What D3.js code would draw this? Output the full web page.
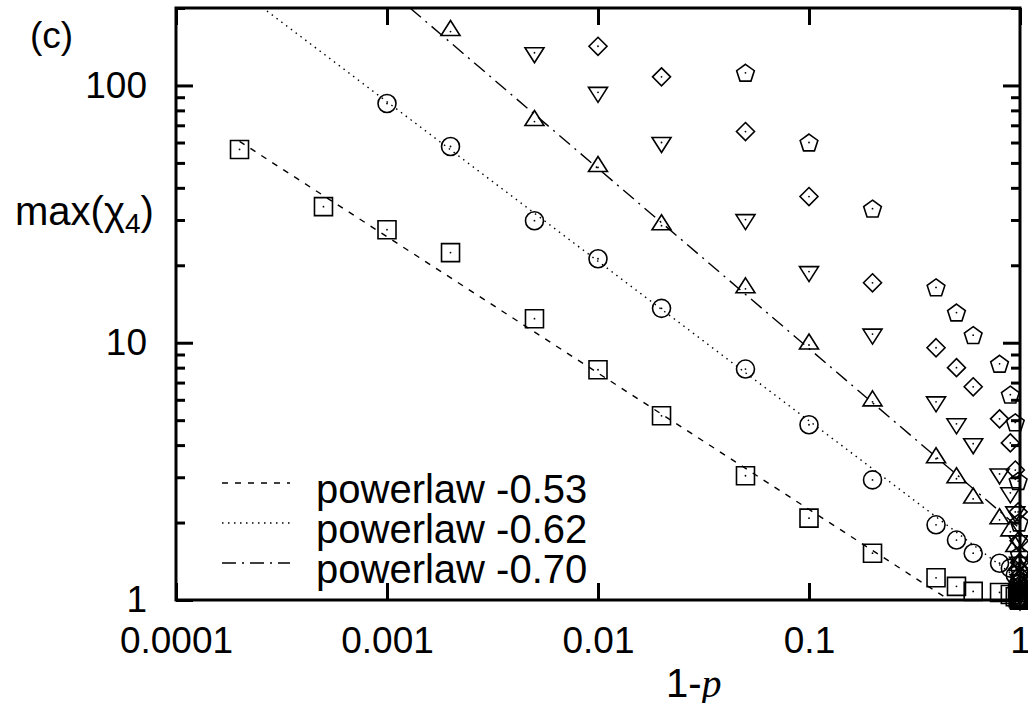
<!DOCTYPE html>
<html>
<head>
<meta charset="utf-8">
<script src="https://cdn.jsdelivr.net/npm/d3@7"></script>
<style>
  body { margin: 0; background: #fff; }
  text { font-family: "Liberation Sans", Arial, sans-serif; fill: #000; }
</style>
</head>
<body>
<svg id="chart" width="1028" height="703"></svg>
<script>
// values
var xVals = [0.0002, 0.0005, 0.001, 0.002, 0.005, 0.01, 0.02, 0.05, 0.1, 0.2, 0.4, 0.5, 0.6, 0.8, 0.9, 0.95, 0.98, 0.99, 0.995, 0.997, 0.998, 0.999, 0.9995];

var squares   = [56.4, 33.8, 27.5, 22.4, 12.4, 7.85, 5.2, 3.04, 2.08, 1.52, 1.22, 1.13, 1.08, 1.07, 1.05, 1.03, 1.02, 1.01, 1.0, 1.0, 1.0, 1.0, 1.0];
var circles   = [null, null, 85.1, 57.9, 29.8, 21.2, 13.6, 7.9, 4.8, 2.93, 1.96, 1.71, 1.52, 1.39, 1.33, 1.25, 1.15, 1.08, 1.03, 1.02, 1.01, 1.0, 1.0];
var trisUp    = [null, null, null, 162, 72.4, 48.0, 28.5, 16.2, 9.8, 5.89, 3.54, 2.96, 2.47, 2.05, 1.84, 1.6, 1.35, 1.2, 1.1, 1.06, 1.04, 1.02, 1.0];
var trisDown  = [null, null, null, null, 134, 94, 60, 30.1, 18.9, 10.8, 5.89, 4.84, 4.05, 3.09, 2.61, 2.2, 1.7, 1.4, 1.2, 1.12, 1.08, 1.05, 1.0];
var diamonds  = [null, null, null, null, null, 142, 108, 66.2, 37.0, 17.1, 9.56, 8.0, 6.74, 5.06, 4.08, 3.2, 2.2, 1.7, 1.4, 1.25, 1.15, 1.1, 1.0];
var pentagons = [null, null, null, null, null, null, null, 112, 60.0, 33.2, 16.4, 13.1, 10.7, 8.28, 6.28, 4.9, 2.9, 2.0, 1.5, 1.3, 1.2, 1.1, 1.0];

var fitLabels    = ["powerlaw -0.53", "powerlaw -0.62", "powerlaw -0.70"];
var fitExponents = [-0.53, -0.62, -0.70];
var fitAmps      = [0.664, 1.193, 1.894];
var fitStart     = [0.0002, 0.0001, 0.0001];

var xTicks = [0.0001, 0.001, 0.01, 0.1, 1];
var xTickLabels = ["0.0001", "0.001", "0.01", "0.1", "1"];
var yTicks = [1, 10, 100];
var yTickLabels = ["1", "10", "100"];
var yMinor = [2, 3, 4, 5, 6, 7, 8, 9, 20, 30, 40, 50, 60, 70, 80, 90, 200];

var pLeft = 176, pRight = 1020, pTop = 8, pBottom = 600;

var svg = d3.select("#chart");

var x = d3.scaleLog().domain([0.0001, 1]).range([pLeft, pRight]);
var y = d3.scaleLog().domain([1, 200]).range([pBottom, pTop]);

svg.append("defs").append("clipPath").attr("id", "plot-clip")
  .append("rect").attr("x", pLeft).attr("y", pTop)
  .attr("width", pRight - pLeft).attr("height", pBottom - pTop);

// fit lines (straight in log-log, so the two ends are enough)
var dashes = ["6,7", "1.5,4.5", "14,6,2,6"];
var line = d3.line().x(function(d) { return x(d[0]); }).y(function(d) { return y(d[1]); });

fitAmps.forEach(function(a, i) {
  var pts = [fitStart[i], 1].map(function(v) { return [v, a * Math.pow(v, fitExponents[i])]; });
  svg.append("path")
    .attr("clip-path", "url(#plot-clip)")
    .attr("d", line(pts))
    .attr("fill", "none").attr("stroke", "#000")
    .attr("stroke-width", 1.4)
    .attr("stroke-dasharray", dashes[i]);
});

// marker shapes, gnuplot style with a dot in the middle
function pentagon(r) {
  var p = [];
  for (var k = 0; k < 5; k++) {
    var t = -Math.PI / 2 + k * 2 * Math.PI / 5;
    p.push([r * Math.cos(t), r * Math.sin(t) + 0.8]);
  }
  return "M" + p.join("L") + "Z";
}
var shapes = [
  "M-9,-9H9V9H-9Z",
  "M9,0A9,9 0 1,1 -9,0A9,9 0 1,1 9,0Z",
  "M0,-11L9.5,4L-9.5,4Z",
  "M0,10L9.5,-5L-9.5,-5Z",
  "M0,-9L9,0L0,9L-9,0Z",
  pentagon(9.3)
];
var series = [squares, circles, trisUp, trisDown, diamonds, pentagons];

series.forEach(function(vals, i) {
  var pts = xVals.map(function(v, j) { return [v, vals[j]]; })
                 .filter(function(d) { return d[1] != null; });
  var g = svg.append("g").selectAll("g").data(pts).enter().append("g")
    .attr("transform", function(d) { return "translate(" + x(d[0]) + "," + y(d[1]) + ")"; });
  g.append("path").attr("d", shapes[i])
    .attr("fill", "none").attr("stroke", "#000").attr("stroke-width", 1.6);
  g.append("circle").attr("r", 0.9).attr("fill", "#000");
});

// axes: labels, then inward ticks on all four sides
var fmtX = function(d, i) { return xTickLabels[i]; };
var fmtY = function(d, i) { return yTickLabels[i]; };

svg.append("g").attr("transform", "translate(0," + pBottom + ")")
  .call(d3.axisBottom(x).tickValues(xTicks).tickFormat(fmtX).tickSize(0).tickPadding(27))
  .call(function(g) { g.select(".domain").remove(); })
  .selectAll("text").attr("font-size", 37).attr("font-family", "Liberation Sans, Arial, sans-serif");

svg.append("g").attr("transform", "translate(" + pLeft + ",0)")
  .call(d3.axisLeft(y).tickValues(yTicks).tickFormat(fmtY).tickSize(0).tickPadding(29))
  .call(function(g) { g.select(".domain").remove(); })
  .selectAll("text").attr("font-size", 37).attr("font-family", "Liberation Sans, Arial, sans-serif");

function ticks(axis, pos, vals, len) {
  svg.append("g").attr("transform", pos)
    .call(axis.tickValues(vals).tickFormat("").tickSizeInner(-len).tickSizeOuter(0))
    .call(function(g) {
      g.select(".domain").remove();
      g.selectAll("line").attr("stroke-width", 3);
    });
}
ticks(d3.axisBottom(x), "translate(0," + pBottom + ")", xTicks, 17);
ticks(d3.axisTop(x), "translate(0," + pTop + ")", xTicks, 17);
ticks(d3.axisLeft(y), "translate(" + pLeft + ",0)", yTicks, 17);
ticks(d3.axisRight(y), "translate(" + pRight + ",0)", yTicks, 17);
ticks(d3.axisLeft(y), "translate(" + pLeft + ",0)", yMinor, 9);
ticks(d3.axisRight(y), "translate(" + pRight + ",0)", yMinor, 9);

svg.append("rect")
  .attr("x", pLeft).attr("y", pTop)
  .attr("width", pRight - pLeft).attr("height", pBottom - pTop)
  .attr("fill", "none").attr("stroke", "#000").attr("stroke-width", 3);

// legend
var legend = svg.append("g").selectAll("g").data(fitLabels).enter().append("g")
  .attr("transform", function(d, i) { return "translate(0," + (483 + i * 40) + ")"; });
legend.append("line")
  .attr("x1", 222).attr("x2", 290)
  .attr("stroke", "#000").attr("stroke-width", 1.4)
  .attr("stroke-dasharray", function(d, i) { return dashes[i]; });
legend.append("text")
  .attr("x", 316).attr("y", 20)
  .attr("font-size", 40)
  .text(function(d) { return d; });

// titles
svg.append("text").attr("x", 30).attr("y", 48).attr("font-size", 37).text("(c)");

var yl = svg.append("text").attr("x", 15).attr("y", 225).attr("font-size", 40);
yl.append("tspan").text("max(");
yl.append("tspan").text("χ");
yl.append("tspan").attr("font-size", 28).attr("dy", 8).text("4");
yl.append("tspan").attr("dy", -8).text(")");

var xl = svg.append("text").attr("x", 666).attr("y", 697).attr("font-size", 40);
xl.append("tspan").text("1-");
xl.append("tspan").attr("font-family", "Liberation Serif, serif").attr("font-style", "italic").text("p");
</script>
</body>
</html>
